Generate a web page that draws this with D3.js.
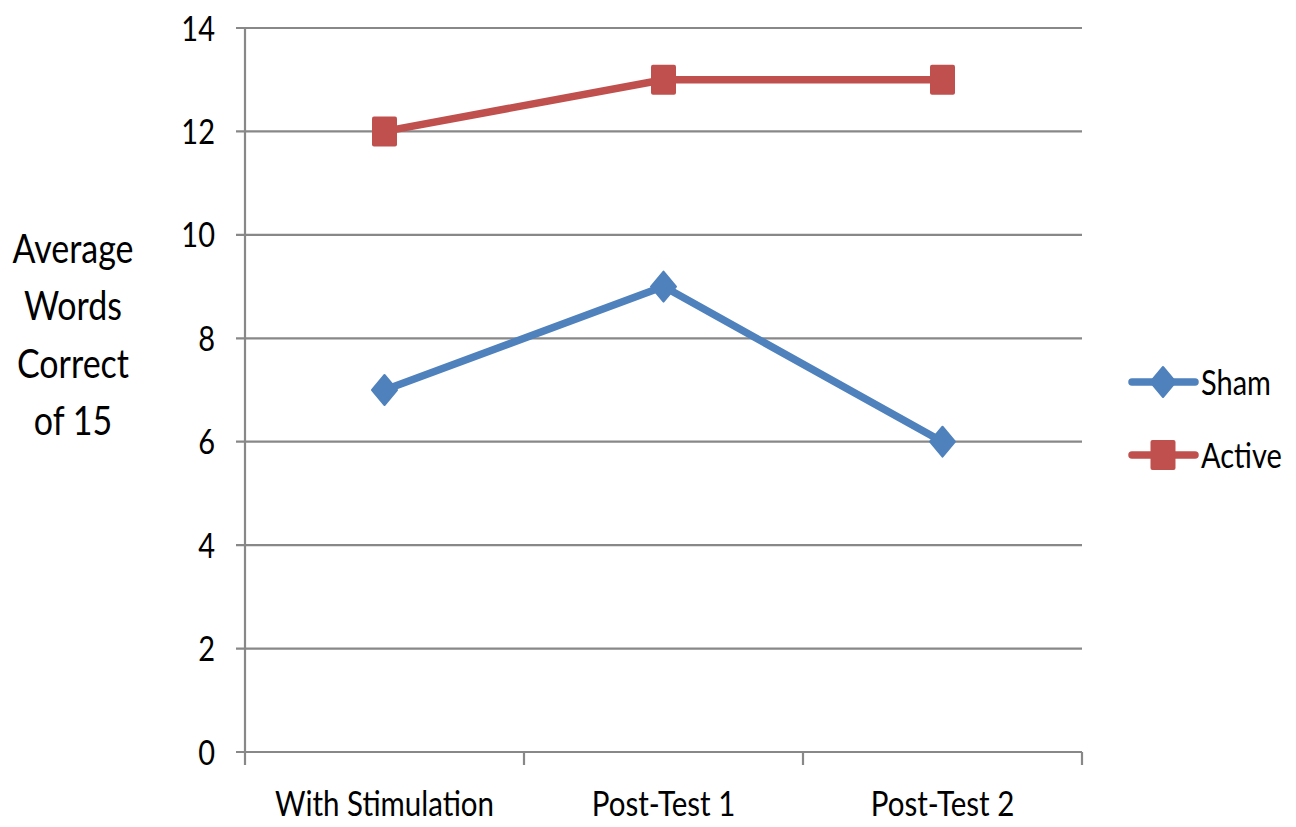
<!DOCTYPE html>
<html>
<head>
<meta charset="utf-8">
<script src="https://cdn.jsdelivr.net/npm/d3@7"></script>
<style>
  html, body { margin: 0; padding: 0; background: #fff; }
  svg text { font-family: Lato, "Open Sans", sans-serif; fill: #000; }
</style>
</head>
<body>
<svg id="chart" width="1296" height="827"></svg>
<script>
const categories = ["With Stimulation", "Post-Test 1", "Post-Test 2"];
const shamValues = [7, 9, 6];
const activeValues = [12, 13, 13];
const seriesNames = ["Sham", "Active"];
const yTicks = [0, 2, 4, 6, 8, 10, 12, 14];
const yTitleLines = ["Average", "Words", "Correct", "of 15"];

(function () {
const colors = { Sham: "#4F81BD", Active: "#C0504D" };
const svg = d3.select("#chart");
const pLeft = 245, pRight = 1082, pTop = 28, pBottom = 752;
const VS = 1.2; // vertical stretch of text as in reference

const x = d3.scaleBand().domain(categories).range([pLeft, pRight]).padding(0);
const y = d3.scaleLinear().domain([0, 14]).range([pBottom, pTop]);

// gridlines
svg.append("g").selectAll("line").data(yTicks).join("line")
  .attr("x1", pLeft - 9).attr("x2", pRight)
  .attr("y1", d => y(d)).attr("y2", d => y(d))
  .attr("stroke", "#888888").attr("stroke-width", 2.2);

// y axis line
svg.append("line").attr("x1", pLeft).attr("x2", pLeft).attr("y1", pTop).attr("y2", pBottom)
  .attr("stroke", "#888888").attr("stroke-width", 2.2);

// x category boundary ticks
const bounds = categories.map(c => x(c)).concat([pRight]);
svg.append("g").selectAll("line").data(bounds).join("line")
  .attr("x1", d => d).attr("x2", d => d).attr("y1", pBottom).attr("y2", pBottom + 13)
  .attr("stroke", "#888888").attr("stroke-width", 2.2);

// y tick labels
svg.append("g").selectAll("text").data(yTicks).join("text")
  .attr("transform", d => `translate(${pLeft - 30},${y(d)}) scale(1,${VS})`)
  .attr("text-anchor", "end").attr("dy", "0.36em")
  .style("font-size", "29px")
  .text(d => d);

// x labels
svg.append("g").selectAll("text").data(categories).join("text")
  .attr("transform", d => `translate(${x(d) + x.bandwidth() / 2},${pBottom + 51}) scale(1,${VS})`)
  .attr("text-anchor", "middle").attr("dy", "0.36em")
  .style("font-size", "29.5px")
  .text(d => d);

// y title
svg.append("g").selectAll("text").data(yTitleLines).join("text")
  .attr("transform", (d, i) => `translate(73,${248 + i * 57.5}) scale(1,${VS})`)
  .attr("text-anchor", "middle").attr("dy", "0.36em")
  .style("font-size", "34px")
  .text(d => d);

const series = [
  { name: "Sham", values: shamValues, marker: "diamond" },
  { name: "Active", values: activeValues, marker: "square" }
];

const line = d3.line().x((d, i) => x(categories[i]) + x.bandwidth() / 2).y(d => y(d));

function drawMarker(g, type, cx, cy, color) {
  if (type === "square") {
    g.append("rect").attr("x", cx - 12.5).attr("y", cy - 15).attr("width", 25).attr("height", 30)
      .attr("rx", 2).attr("fill", color);
  } else {
    g.append("path").attr("d", `M${cx},${cy - 15}L${cx + 12.5},${cy}L${cx},${cy + 15}L${cx - 12.5},${cy}Z`)
      .attr("fill", color).attr("stroke", color).attr("stroke-width", 2).attr("stroke-linejoin", "round");
  }
}

series.forEach(s => {
  const g = svg.append("g");
  g.append("path").datum(s.values).attr("d", line)
    .attr("fill", "none").attr("stroke", colors[s.name]).attr("stroke-width", 7.5)
    .attr("stroke-linejoin", "round").attr("stroke-linecap", "round");
  s.values.forEach((v, i) => drawMarker(g, s.marker, x(categories[i]) + x.bandwidth() / 2, y(v), colors[s.name]));
});

// legend
const legY = [382, 455];
series.forEach((s, i) => {
  const g = svg.append("g");
  g.append("line").attr("x1", 1132).attr("x2", 1195).attr("y1", legY[i]).attr("y2", legY[i])
    .attr("stroke", colors[s.name]).attr("stroke-width", 7.5).attr("stroke-linecap", "round");
  drawMarker(g, s.marker, 1163, legY[i], colors[s.name]);
  g.append("text").attr("transform", `translate(1201,${legY[i]}) scale(1,${VS})`)
    .attr("dy", "0.36em").style("font-size", "29px").text(s.name);
});
})();
</script>
</body>
</html>
